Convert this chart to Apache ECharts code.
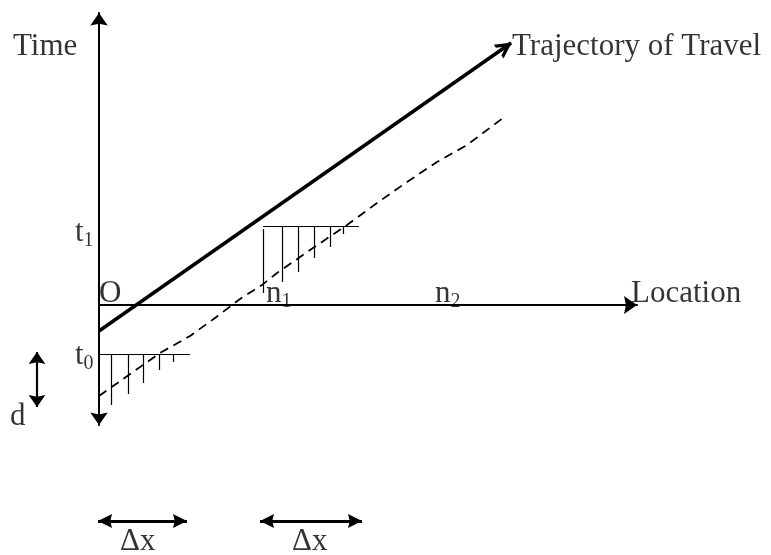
<!DOCTYPE html>
<html>
<head>
<meta charset="utf-8">
<script src="https://cdn.jsdelivr.net/npm/echarts@6/dist/echarts.min.js"></script>
<style>
html,body{margin:0;padding:0;background:#fff;}
#chart{width:771px;height:555px;}
</style>
</head>
<body>
<div id="chart"></div>
<script>
// Diagram data (units: location / time relative to origin O)
const trajectory = [[0, -26], [412, 262]];
const observed = [[0,-91],[61,-48],[91,-31],[116,-13],[141,6],[163,20],[178,32],[214,57],[248,80],[278,102],[308,123],[338,143],[368,160],[404,187]];
const hatchT0Line = [[0, -49], [91, -49]];
const hatchT0X = [12, 29, 44, 60, 74];
const hatchT0Bottom = [-100, -89, -78, -65, -57];
const hatchT1Line = [[164, 79], [260, 79]];
const hatchT1X = [164, 183, 199, 215, 231, 244];
const hatchT1Top = [76, 79, 79, 79, 79, 79];
const hatchT1Bottom = [12, 23, 33, 47, 58, 71];
const dArrow = [[-62, -47], [-62, -102]];
const dxArrows = [[[-1, -216], [88, -216]], [[161, -216], [263, -216]]];
const textLabels = [
  {name: 'Time', sub: '', value: [-86, 258]},
  {name: 'Trajectory of Travel', sub: '', value: [413, 258]},
  {name: 'Location', sub: '', value: [532, 11]},
  {name: 'O', sub: '', value: [0, 11]},
  {name: 'n', sub: '1', value: [167, 11]},
  {name: 'n', sub: '2', value: [336, 11]},
  {name: 't', sub: '1', value: [-24, 72]},
  {name: 't', sub: '0', value: [-24, -51]},
  {name: 'd', sub: '', value: [-89, -112]},
  {name: '\u0394x', sub: '', value: [21, -237]},
  {name: '\u0394x', sub: '', value: [193, -237]}
];

// arrowhead shapes; the tip sits at the centre of a square box so it lands on the end point
const wideHead = 'path://M0,0L20,0M10,10L17,20L10,18.5L3,20Z';
const dxHead = 'path://M0,0L24,0M12,12L18,24L12,22.5L6,24Z';
const openHead = 'path://M0,0L24,0M12,11.2L18.8,24L15.8,24L12,17L8.2,24L5.2,24Z';
const FONT = 'Liberation Serif';

const hatchSegs = [];
hatchSegs.push({coords: hatchT0Line});
hatchT0X.forEach((x, i) => hatchSegs.push({coords: [[x, hatchT0Line[0][1]], [x, hatchT0Bottom[i]]]}));
hatchSegs.push({coords: hatchT1Line});
hatchT1X.forEach((x, i) => hatchSegs.push({coords: [[x, hatchT1Top[i]], [x, hatchT1Bottom[i]]]}));

const chart = echarts.init(document.getElementById('chart'));
chart.setOption({
  animation: false,
  backgroundColor: '#fff',
  grid: {left: 99, right: 134, top: 13, bottom: 130},
  xAxis: {
    type: 'value', min: 0, max: 538,
    axisLine: {show: true, onZero: true, symbol: ['none', wideHead], symbolSize: [26, 26], lineStyle: {color: '#000', width: 2}},
    axisTick: {show: false}, axisLabel: {show: false}, splitLine: {show: false}
  },
  yAxis: {
    type: 'value', min: -120, max: 292,
    axisLine: {show: true, onZero: false, symbol: [wideHead, wideHead], symbolSize: [25, 25], lineStyle: {color: '#000', width: 2}},
    axisTick: {show: false}, axisLabel: {show: false}, splitLine: {show: false}
  },
  series: [
    {
      type: 'lines', coordinateSystem: 'cartesian2d', clip: false, silent: true,
      symbol: ['none', openHead], symbolSize: 30,
      lineStyle: {color: '#000', width: 3.5, opacity: 1},
      data: [{coords: trajectory}]
    },
    {
      type: 'line', data: observed, symbol: 'none', silent: true,
      lineStyle: {color: '#000', width: 1.8, type: [9, 6]}
    },
    {
      type: 'lines', coordinateSystem: 'cartesian2d', clip: false, silent: true,
      symbol: ['none', 'none'],
      lineStyle: {color: '#000', width: 1.2, opacity: 1},
      data: hatchSegs
    },
    {
      type: 'lines', coordinateSystem: 'cartesian2d', clip: false, silent: true,
      symbol: [wideHead, wideHead], symbolSize: 24,
      lineStyle: {color: '#000', width: 2.2, opacity: 1},
      data: [{coords: dArrow}]
    },
    {
      type: 'lines', coordinateSystem: 'cartesian2d', clip: false, silent: true,
      symbol: [dxHead, dxHead], symbolSize: 28,
      lineStyle: {color: '#000', width: 2.8, opacity: 1},
      data: dxArrows.map(c => ({coords: c}))
    },
    {
      type: 'scatter', clip: false, silent: true, symbolSize: 0,
      data: textLabels,
      label: {
        show: true, position: 'right', distance: 0, color: '#000',
        formatter: p => p.data.sub ? '{b|' + p.data.name + '}{s|' + p.data.sub + '}' : '{b|' + p.data.name + '}',
        rich: {
          b: {fontFamily: FONT, fontSize: 31, color: '#000'},
          s: {fontFamily: FONT, fontSize: 20, color: '#000', padding: [15, 0, 0, 0]}
        }
      }
    }
  ]
});
</script>
</body>
</html>
